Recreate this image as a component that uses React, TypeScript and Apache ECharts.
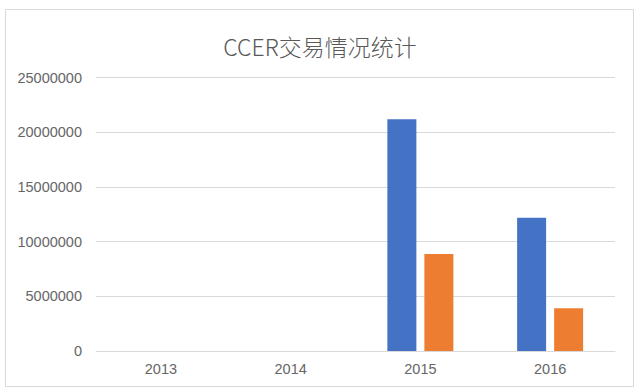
import React, { useEffect, useRef } from "react";
import * as echarts from "echarts";

const categories = ["2013", "2014", "2015", "2016"];
const seriesA = [0, 0, 21200000, 12180000];
const seriesB = [0, 0, 8880000, 3910000];
const yTicks = [0, 5000000, 10000000, 15000000, 20000000, 25000000];

export default function App() {
  const ref = useRef<HTMLDivElement>(null);
  useEffect(() => {
    if (!ref.current) return;
    const chart = echarts.init(ref.current, undefined, { renderer: "svg" });
    chart.setOption({
      animation: false,
      backgroundColor: "#ffffff",
      title: {
        text: "CCER交易情况统计",
        left: "center",
        top: 27,
        textStyle: {
          fontFamily: "Noto Sans CJK SC",
          fontSize: 23,
          fontWeight: 300,
          color: "#595959",
          lineHeight: 28,
        },
      },
      graphic: [
        {
          type: "rect",
          shape: { x: 5.5, y: 9.5, width: 628, height: 377 },
          style: { fill: "none", stroke: "#d9d9d9", lineWidth: 1 },
          silent: true,
        },
      ],
      grid: { left: 96, right: 25, top: 77.7, bottom: 41, containLabel: false },
      xAxis: {
        type: "category",
        data: categories,
        axisLine: { show: true, lineStyle: { color: "#d9d9d9", width: 1 } },
        axisTick: { show: false },
        axisLabel: {
          color: "#666666",
          fontFamily: "Liberation Sans",
          fontSize: 14.5,
          margin: 10,
        },
      },
      yAxis: {
        type: "value",
        min: yTicks[0],
        max: yTicks[yTicks.length - 1],
        interval: 5000000,
        axisLine: { show: false },
        axisTick: { show: false },
        splitLine: { lineStyle: { color: "#d9d9d9", width: 1 } },
        axisLabel: {
          color: "#666666",
          fontFamily: "Liberation Sans",
          fontSize: 14.5,
          margin: 14,
          formatter: (v: number) => String(v),
        },
      },
      series: [
        {
          name: "系列1",
          type: "bar",
          data: seriesA,
          barWidth: 29,
          barGap: "27.6%",
          itemStyle: { color: "#4472C4" },
        },
        {
          name: "系列2",
          type: "bar",
          data: seriesB,
          barWidth: 29,
          barGap: "27.6%",
          itemStyle: { color: "#ED7D31" },
        },
      ],
    });
    return () => chart.dispose();
  }, []);
  return (
    <div
      ref={ref}
      style={{ position: "fixed", left: 0, top: 0, width: 640, height: 392 }}
    />
  );
}
